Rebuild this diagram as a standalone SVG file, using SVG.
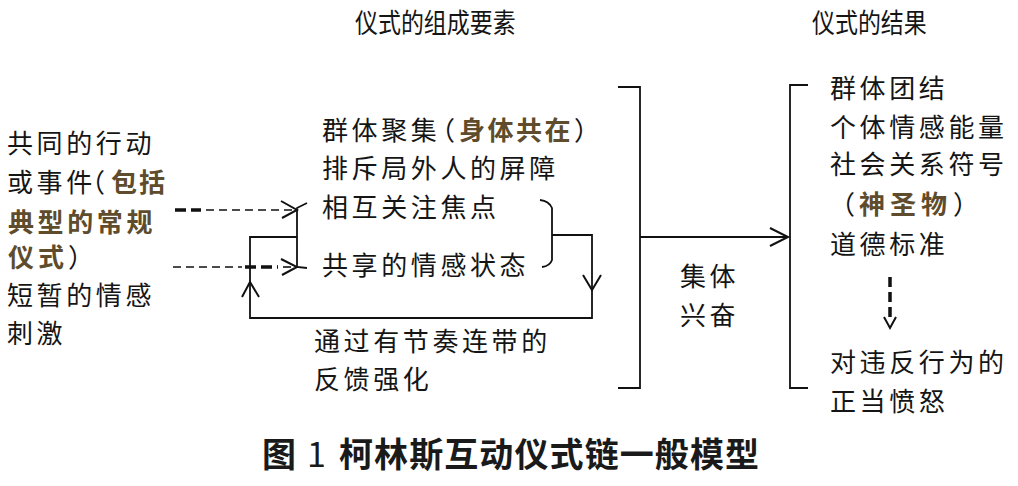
<svg xmlns="http://www.w3.org/2000/svg" width="1018" height="486" viewBox="0 0 1018 486">
<style>
  .t { font-family: "Noto Sans CJK SC", "Noto Sans CJK TC", sans-serif; font-size: 26px; fill: #151515; letter-spacing: 3.6px; }
  .g { fill: #5e4c2c; font-weight: bold; }
  .h { font-family: "Noto Sans CJK SC", sans-serif; font-size: 27px; fill: #151515; }
  .cap { font-family: "Noto Sans CJK SC", sans-serif; font-size: 34px; fill: #1a1a1a; font-weight: bold; }
  .ln { fill: none; stroke: #111; stroke-width: 1.8; }
  .thin { fill: none; stroke: #111; stroke-width: 1.6; stroke-dasharray: 8 5; }
  .thick { fill: none; stroke: #111; stroke-width: 3.5; stroke-dasharray: 11 5; }
  .hd { fill: none; stroke: #111; stroke-width: 2; stroke-linejoin: miter; }
</style>
<rect width="1018" height="486" fill="#fff"/>

<g id="header-elements"><text class="h" transform="translate(355,33) scale(0.85,1)" x="0" y="0">仪式的组成要素</text></g>
<g id="header-results"><text class="h" transform="translate(812,33) scale(0.85,1)" x="0" y="0">仪式的结果</text></g>

<g id="node-inputs">
  <text class="t" x="7" y="153">共同的行动</text>
  <text class="t" y="192"><tspan x="7" dx="0 0 0 -16.8">或事件（</tspan><tspan class="g" x="111" letter-spacing="2">包括</tspan></text>
  <text class="t g" x="8" y="232" letter-spacing="4">典型的常规</text>
  <text class="t" y="267"><tspan class="g" x="8" letter-spacing="4">仪式</tspan><tspan x="68" letter-spacing="0">）</tspan></text>
  <text class="t" x="7" y="305">短暂的情感</text>
  <text class="t" x="7" y="343">刺激</text>
</g>

<g id="node-ingredients">
  <text class="t" y="140"><tspan x="322" dx="0 0 0 0 -11.4">群体聚集（</tspan><tspan class="g" x="459" letter-spacing="2.5">身体共在</tspan><tspan x="574" letter-spacing="0">）</tspan></text>
  <text class="t" x="322" y="178">排斥局外人的屏障</text>
  <text class="t" x="322" y="217">相互关注焦点</text>
  <text class="t" x="322" y="275">共享的情感状态</text>
</g>

<g id="node-feedback">
  <text class="t" x="314" y="351">通过有节奏连带的</text>
  <text class="t" x="314" y="389">反馈强化</text>
</g>

<g id="node-effervescence">
  <text class="t" x="680" y="286">集体</text>
  <text class="t" x="680" y="325">兴奋</text>
</g>

<g id="node-outcomes">
  <text class="t" x="830" y="98">群体团结</text>
  <text class="t" x="830" y="137">个体情感能量</text>
  <text class="t" x="830" y="174">社会关系符号</text>
  <text class="t" y="214"><tspan x="829" letter-spacing="0">（</tspan><tspan class="g" x="859" letter-spacing="5">神圣物</tspan><tspan x="953" letter-spacing="0">）</tspan></text>
  <text class="t" x="830" y="254">道德标准</text>
  <text class="t" x="830" y="372">对违反行为的</text>
  <text class="t" x="830" y="411">正当愤怒</text>
</g>

<g id="connectors">
  <!-- upper dashed input arrow -->
  <line class="thick" x1="175" y1="210" x2="201" y2="210"/>
  <line class="thin" x1="206" y1="210" x2="294" y2="210"/>
  <polyline class="hd" points="281,201 297,210 282,218"/>
  <!-- lower dashed input arrow -->
  <line class="thin" x1="173" y1="267" x2="242" y2="267"/>
  <line class="thick" x1="245" y1="267" x2="278" y2="267"/>
  <line class="thin" x1="283" y1="267" x2="294" y2="267"/>
  <polyline class="hd" points="281,259 297,267 282,275"/>
  <!-- joining bracket -->
  <path class="ln" d="M307,203 L297,208 V267 L307,268"/>
  <!-- right brace -->
  <path class="ln" d="M540,200 Q549,201 552,208 V260 Q550,266 542,267"/>
  <!-- feedback loop -->
  <path class="ln" d="M552,235 H592 V318 H250 V237 H297"/>
  <polyline class="hd" points="583,275 592,290 601,275"/>
  <polyline class="hd" points="242,297 250,282 259,297"/>
  <!-- big brackets -->
  <path class="ln" d="M618,87 H640 V388 H618"/>
  <path class="ln" d="M808,85 H790 V388 H808"/>
  <!-- main arrow -->
  <line class="ln" x1="640" y1="237" x2="788" y2="237"/>
  <polyline class="hd" points="770,228 788,237 770,246"/>
  <!-- outcomes dashed arrow -->
  <line x1="890" y1="277" x2="890" y2="318" stroke="#111" stroke-width="3.5" stroke-dasharray="10 5"/>
  <polyline class="hd" points="884,317 890,328 896,317"/>
</g>

<g id="caption">
  <text class="cap" y="467"><tspan x="262">图</tspan><tspan x="307" font-weight="normal">1</tspan><tspan x="339" textLength="420" lengthAdjust="spacing">柯林斯互动仪式链一般模型</tspan></text>
</g>
</svg>
